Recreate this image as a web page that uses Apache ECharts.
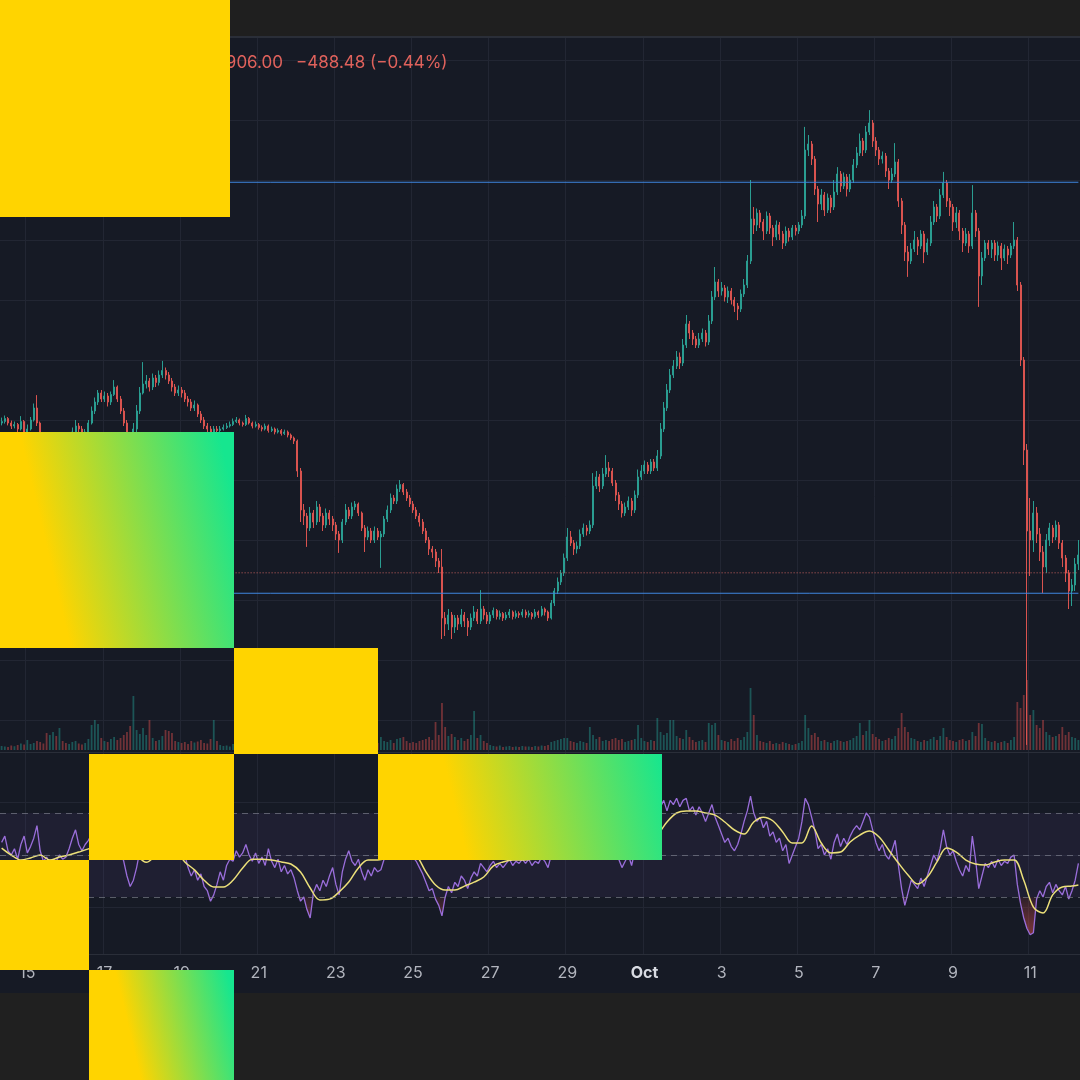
<!DOCTYPE html>
<html><head><meta charset="utf-8">
<script src="https://cdn.jsdelivr.net/npm/echarts@6/dist/echarts.min.js"></script>
<style>html,body{margin:0;padding:0;background:#1f1f1f;}#c{width:1080px;height:1080px;}</style>
</head><body><div id="c"></div><script>
// ---------- DATA (BTC/USD, 2h candles, Sep 14 08:00 -> Oct 12 06:00 UTC) ----------
const startTime = Date.UTC(2025, 8, 14, 8);
const stepMs = 2 * 3600 * 1000;
const firstOpen = 115900;
const closes = [
115950,116050,115900,115800,115850,115700,115950,115600,
115700,116000,116400,115900,115300,115000,114900,115100,115300,115200,115400,115350,
115250,115400,115600,115800,115700,115550,115600,115900,116300,116600,116900,116700,
116800,116600,116850,117100,116700,116300,115900,115400,115200,115700,116300,116900,
117200,117300,117100,117400,117250,117500,117650,117500,117300,117100,116900,117000,
116900,116700,116600,116400,116500,116200,116000,115800,115700,115600,115700,115650,
115700,115750,115800,115850,115950,116000,115900,115850,116050,115900,115800,115850,
115750,115700,115800,115650,115700,115600,115650,115550,115600,115500,115400,115300,
114300,113000,112800,112400,112900,112600,113100,112800,112500,112900,112700,112500,
112200,112000,112600,113000,112800,113100,113200,112900,112400,112100,112300,112000,
112300,112100,112200,112700,113000,113400,113300,113700,113850,113600,113400,113200,
113000,112800,112600,112300,112000,111700,111600,111300,111100,109400,109200,109500,
109100,109400,109200,109500,109300,109100,109400,109600,109300,109700,109500,109300,
109500,109650,109450,109550,109400,109500,109600,109450,109550,109500,109600,109500,
109550,109450,109600,109500,109700,109600,109400,109900,110300,110600,110900,111400,
112100,111900,111700,111800,112200,112400,112300,112500,113800,114100,113800,114200,
114400,114300,113900,113500,113200,112900,113100,113300,113000,113500,114100,114300,
114500,114300,114600,114400,114800,115700,116400,117000,117500,117800,118100,117900,
118500,119200,118900,118700,118500,118700,118900,118600,119300,120100,120600,120300,
120400,120100,120300,120000,119800,119700,120200,120500,121300,122700,122500,122900,
122600,122300,122800,122400,122100,122500,122200,121900,122300,122100,122400,122300,
122500,122800,125000,125200,124700,123700,123200,123500,123000,123400,123100,123600,
124200,123800,124100,123700,124000,124500,124900,125300,125000,125600,125900,125300,
125000,124700,124800,124300,124000,124200,124600,123300,122500,121600,121300,121700,
122000,121800,122200,121600,121900,122600,123100,122800,123500,123900,123300,123100,
122600,122900,122300,121900,122200,121800,122900,122300,120800,121400,121900,121700,
121900,121500,121800,121400,121700,121500,121800,122000,120500,118000,115000,112300,
112000,112900,112200,111600,111100,112000,112400,112100,112500,111900,111400,110900,
110300,110500,111200,111500];
const highs = [
116080,116150,116100,115980,115950,115900,116130,116000,
115850,116100,116550,116830,115950,115400,115150,115200,115450,115400,115550,115500,
115450,115500,115750,116000,115900,115800,115700,116000,116450,116750,117000,117000,
116950,116900,116950,117330,117150,116800,116400,116000,115600,115900,116500,117100,
117930,117500,117400,117550,117500,117650,117970,117750,117600,117400,117200,117150,
117100,117000,116800,116700,116650,116550,116300,116100,115900,115800,115800,115800,
115800,115850,115900,115950,116050,116100,116050,115950,116170,116100,115950,115950,
115900,115820,115880,115850,115780,115750,115720,115700,115680,115650,115550,115450,
115350,114400,113200,112900,113100,113000,113300,113200,112900,113050,113000,112800,
112600,112300,112700,113200,113100,113250,113300,113250,112950,112500,112450,112400,
112450,112400,112300,112800,113150,113550,113500,113850,114000,113900,113700,113500,
113300,113100,112900,112700,112400,112100,111800,111700,111400,111700,109600,109700,
109600,109500,109500,109700,109600,109400,109550,109800,109700,110330,109800,109600,
109600,109750,109700,109650,109600,109600,109700,109650,109650,109620,109700,109680,
109650,109600,109700,109650,109800,109750,109650,110000,110400,110750,111000,111550,
112400,112300,112000,111950,112350,112550,112500,112650,114230,114300,114200,114400,
114830,114600,114400,114000,113600,113300,113250,113450,113400,113650,114350,114500,
114650,114600,114700,114700,115000,115900,116600,117200,117700,118000,118300,118250,
118700,119500,119300,119000,118800,118900,119050,119000,119500,120300,121100,120700,
120600,120500,120450,120400,120100,119900,120350,120700,121500,124000,123100,123050,
123000,122700,122950,122900,122500,122650,122600,122300,122450,122400,122500,122500,
122600,123000,125770,125500,125300,124800,123800,123700,123600,123550,123500,124000,
124430,124300,124250,124200,124200,124700,125100,125550,125400,125800,126330,126000,
125430,125100,124950,124900,124400,124400,125230,124700,123400,122600,121800,121900,
122300,122100,122330,122300,122050,122800,123300,123200,123700,124270,124000,123400,
123200,123100,123000,122400,122400,122300,123830,123000,122400,121600,122000,122000,
122000,122000,121950,121900,121850,121800,121900,122600,122100,120600,118100,115200,
113400,113300,113100,112400,111800,112200,112570,112500,112650,112600,112000,111500,
111000,110700,111400,112000];
const lows = [
115820,115880,115820,115700,115720,115600,115650,115500,
115450,115650,115950,115800,115150,114850,114750,114800,115000,115050,115100,115200,
115100,115150,115350,115550,115600,115450,115450,115550,115850,116200,116500,116600,
116600,116450,116500,116800,116600,116200,115800,115250,114900,114950,115600,116200,
116850,117050,116950,117000,117100,117150,117400,117350,117200,116950,116800,116800,
116750,116600,116450,116300,116300,116100,115900,115700,115600,115500,115500,115550,
115600,115650,115700,115750,115800,115900,115820,115780,115800,115850,115720,115750,
115680,115620,115650,115580,115600,115520,115550,115480,115500,115420,115330,115200,
114100,112600,112500,111770,112300,112400,112500,112600,112300,112400,112500,112300,
112000,111570,111900,112500,112700,112700,113000,112800,112300,111600,112000,111900,
111900,112000,111070,112100,112600,112900,113200,113200,113600,113500,113300,113100,
112900,112700,112450,112200,111900,111500,111400,111100,110900,108700,108800,109000,
108700,108900,109000,109100,109100,108800,109000,109300,109200,109200,109350,109200,
109200,109400,109350,109350,109300,109330,109400,109350,109380,109400,109420,109400,
109420,109350,109380,109400,109450,109480,109300,109350,109800,110200,110500,110800,
111300,111800,111500,111550,111700,112100,112150,112200,112400,113700,113600,113700,
114100,114100,113800,113300,113000,112750,112800,113000,112800,112900,113400,114000,
114200,114200,114200,114300,114300,114700,115600,116300,116900,117400,117700,117700,
117800,118400,118700,118500,118400,118400,118600,118450,118500,119200,120000,120100,
120150,119950,119900,119850,119600,119330,119600,120100,120400,121200,122200,122300,
122400,122000,122200,122200,121800,122000,122000,121700,121800,121950,122000,122150,
122200,122400,122700,124800,124500,123500,122600,123000,122800,122900,122900,123000,
123500,123600,123700,123450,123600,123900,124400,124800,124800,124900,125500,125100,
124800,124500,124550,124100,123700,123900,124100,123100,122200,121300,120770,121200,
121600,121500,121700,121230,121500,121800,122500,122600,122700,123400,123100,122800,
122300,122400,122000,121600,121800,121570,121700,122100,119770,120500,121300,121500,
121400,121300,121300,121000,121300,121200,121400,121700,120300,117800,114500,105170,
110800,111600,111900,111300,110230,110900,111800,111900,112000,111700,111100,110600,
109700,109800,110300,111000];
const volumes = [
400,350,300,450,380,500,650,550,
1000,600,700,900,800,650,1700,1500,1800,1400,2200,900,
700,600,800,900,650,550,700,1100,2500,3000,2600,1200,
900,800,1100,1300,1000,1200,1500,1800,2400,5400,2000,1600,
2200,1500,3000,1200,900,1000,1400,2000,1900,1700,900,800,
700,800,600,900,750,850,1000,700,650,1100,3000,900,
500,400,450,350,600,500,400,450,700,500,400,350,
400,350,300,450,400,350,500,450,400,550,600,700,
1800,2000,1500,1900,1400,1000,900,800,1100,900,700,800,
900,1400,1000,800,700,900,800,750,1000,1200,800,700,
800,700,1300,900,800,1000,700,1100,1200,1300,900,700,
800,700,900,1000,1100,1300,1000,2800,1500,4700,2300,1400,
1600,1300,1000,1200,900,1100,1500,3900,1200,1500,900,700,
500,400,350,450,300,350,400,300,350,300,400,350,
350,300,400,350,450,400,500,800,900,1000,1100,1200,
1200,900,800,700,900,800,700,2300,1500,1100,1300,900,
1000,900,1100,1200,1000,1100,800,900,1000,1100,2500,1200,
900,800,1000,900,3200,1800,1500,1700,3000,3000,1400,1200,
1100,2000,1300,1000,800,900,1000,800,2700,2500,2700,1500,
1000,900,800,1100,900,1200,1000,1300,1800,6200,3500,1500,
900,800,700,900,600,700,600,800,700,600,500,600,
700,900,3500,2200,1500,1700,1300,900,1000,800,700,900,
1000,900,800,900,1000,1200,1400,2700,1500,1900,3000,1600,
1300,1100,900,1000,1200,1100,1400,2200,3700,2300,1800,1200,
1100,900,800,1000,900,1100,1300,1000,1400,2200,1300,1000,
900,800,1000,1100,900,1000,1800,1400,2700,2600,1200,900,
800,900,700,800,900,700,1000,1300,4800,4200,5500,7000,
3500,4000,2500,2200,3000,1800,1500,1300,1400,1600,2300,1500,
1800,1300,1200,1000];
const rsi = [
56,59,52,50,53,48,55,59,51,54,
58,64,52,47,49,46,48,47,50,48,
49,53,58,62,55,52,55,57,60,63,
66,62,64,60,63,66,58,52,47,40,
35,38,44,52,60,63,61,64,60,63,
65,61,58,62,57,53,48,50,44,40,
43,38,41,35,33,28,31,36,42,38,
45,48,47,52,49,51,55,50,47,51,
46,49,45,53,47,44,48,42,45,41,
43,39,33,28,30,24,20,32,36,33,
38,35,40,44,36,31,42,48,52,47,
45,48,42,38,43,40,44,42,43,48,
52,55,54,58,60,56,54,51,49,47,
44,41,37,33,34,29,26,21,30,35,
32,37,35,40,38,34,39,42,40,46,
44,42,45,47,44,46,44,46,48,45,
47,46,48,46,48,45,47,46,49,47,
44,50,55,58,62,63,66,60,56,57,
61,63,61,64,71,72,67,70,71,68,
61,55,48,44,47,50,45,52,60,62,
65,61,64,62,66,73,76,71,76,74,
77,73,76,77,71,73,69,73,70,66,
70,74,68,64,60,56,58,54,52,55,
60,66,71,78,70,66,68,63,66,59,
61,56,58,52,55,46,50,54,58,66,
77,74,68,62,53,55,50,53,48,56,
60,54,58,55,59,62,64,62,66,70,
68,62,56,52,55,50,48,52,57,45,
34,26,32,38,36,34,39,35,40,45,
50,47,53,62,54,50,52,47,43,40,
45,42,59,48,34,40,46,44,47,44,
48,45,47,46,49,50,36,27,20,15,
12,13,29,33,30,35,37,32,36,33,
31,35,29,33,38,46];
// RSI-based moving average, read every 3rd candle (last point = final candle)
const rsiMa = [
53.3,50,47.6,48.6,50,47.6,49,50,51.4,52.9,
54.8,58,59.5,55,50,46.5,50,53.3,52.4,46.7,
42.9,38,34.8,34.8,38,43.8,48,48,47.6,46.7,
45.7,41.9,34.3,28.6,29,32.4,37.1,43.8,47.6,47.6,
49,52.4,53.3,50,42,35.7,33.3,33.3,35.2,37.1,
39.5,44.8,46.7,47.6,47.6,48,48.6,50,53.3,56.2,
57,59,62.9,64.3,59.5,54.8,53.3,55.7,59.5,65.7,
70,71,71,70,69,65.7,61.9,60,65.7,68,
66.2,61,55.7,55.7,63.8,55.7,51,51.4,56.2,59.5,
61.4,58.6,52.4,46.2,40.5,36.2,39.5,46.7,53.3,51.4,
47.6,45.7,45.2,46.7,47.6,47.6,38,25.2,22.4,31,
34.8,35.2,35.7];
const tickLabels = ['15','17','19','21','23','25','27','29','Oct','3','5','7','9','11'];
const levelLines = [123925, 110225];
const lastPrice = 110906;
const headerClose = 'C110,906.00';
const headerChange = '\u2212488.48 (\u22120.44%)';

// ---------- BUILD ----------
const n = closes.length;
const cats = [];
for (let i = 0; i < n; i++) {
  const d = new Date(startTime + i * stepMs);
  cats.push(d.toISOString().slice(5, 16).replace('T', ' '));
}
const opens = closes.map((c, i) => i === 0 ? firstOpen : closes[i - 1]);
const ohlc = closes.map((c, i) => [opens[i], c, lows[i], highs[i]]);
const UP = '#2a9d91', DOWN = '#d9534f';
const volData = volumes.map((v, i) => ({
  value: v,
  itemStyle: { color: closes[i] >= opens[i] ? 'rgba(38,166,154,0.42)' : 'rgba(239,83,80,0.42)' }
}));
const maData = new Array(n).fill(null);
rsiMa.forEach((v, k) => { maData[Math.min(k * 3, n - 1)] = v; });
const osBase = rsi.map(v => Math.min(v, 30));
const osFill = rsi.map(v => 30 - Math.min(v, 30));
const nulls = rsi.map(() => null);
const tickAt = i => (i >= 8 && (i - 8) % 24 === 0) ? tickLabels[(i - 8) / 24] : null;

const GRID = '#222633';
const YEL = '#FFD400', GRN = '#16E68F';
function grad(x, y, x2, y2) {
  return { type: 'linear', x: x, y: y, x2: x2, y2: y2, global: true,
    colorStops: [{ offset: 0, color: YEL }, { offset: 1, color: GRN }] };
}
// horizontal level drawn as a two-point line across the whole time range
function hLine(value, color, type) {
  return { type: 'line', xAxisIndex: 1, yAxisIndex: 1, symbol: 'none', silent: true, z: 4,
    data: [[cats[0], value], [cats[n - 1], value]],
    itemStyle: { color: color },
    lineStyle: { color: color, width: 1, type: type, opacity: 1 },
    emphasis: { disabled: true } };
}
const baseGrid = { left: 0, right: 0, containLabel: false, outerBoundsMode: 'none' };

const chart = echarts.init(document.getElementById('c'), null, { renderer: 'canvas' });
chart.setOption({
  animation: false,
  backgroundColor: '#161a25',
  textStyle: { fontFamily: 'Inter' },
  grid: [
    Object.assign({ top: 38, height: 917 }, baseGrid),
    Object.assign({ top: 60, height: 660 }, baseGrid),
    Object.assign({ top: 600, height: 150 }, baseGrid),
    Object.assign({ top: 750, height: 210 }, baseGrid)
  ],
  xAxis: [
    { type: 'category', gridIndex: 0, data: cats, boundaryGap: true,
      axisLine: { show: false }, axisTick: { show: false }, axisLabel: { show: false },
      splitLine: { show: true, interval: (i) => tickAt(i) !== null, lineStyle: { color: GRID, width: 1 } } },
    { type: 'category', gridIndex: 1, data: cats, boundaryGap: true, show: false },
    { type: 'category', gridIndex: 2, data: cats, boundaryGap: true, show: false },
    { type: 'category', gridIndex: 3, data: cats, boundaryGap: true,
      axisLine: { show: false }, axisTick: { show: false }, splitLine: { show: false },
      axisLabel: { show: true, interval: (i) => tickAt(i) !== null, margin: 5,
        color: '#b2b5be', fontSize: 16, fontFamily: 'Inter', hideOverlap: false,
        formatter: (v, i) => { const t = tickAt(i); return t === null ? '' : (t === 'Oct' ? '{b|Oct}' : t); },
        rich: { b: { fontWeight: 'bold', color: '#d8dbe2', fontSize: 16, fontFamily: 'Inter' } } } }
  ],
  yAxis: [
    { type: 'value', gridIndex: 0, min: 0, max: 1, show: false },
    { type: 'value', gridIndex: 1, min: 106000, max: 128000, interval: 2000, scale: false,
      axisLine: { show: false }, axisTick: { show: false }, axisLabel: { show: false },
      splitLine: { show: true, lineStyle: { color: GRID, width: 1 } } },
    { type: 'value', gridIndex: 2, min: 0, max: 15000, show: false },
    { type: 'value', gridIndex: 3, min: 0, max: 100, interval: 25,
      axisLine: { show: false }, axisTick: { show: false }, axisLabel: { show: false },
      splitLine: { show: true, showMinLine: false, showMaxLine: false, lineStyle: { color: GRID, width: 1 } } }
  ],
  series: [
    { type: 'line', xAxisIndex: 0, yAxisIndex: 0, data: [], silent: true },
    { name: 'BTC', type: 'candlestick', xAxisIndex: 1, yAxisIndex: 1, data: ohlc,
      barWidth: 1.5, clip: false, z: 3,
      itemStyle: { color: UP, color0: DOWN, borderColor: UP, borderColor0: DOWN, borderWidth: 1 } },
    hLine(levelLines[0], '#3f86e0', 'solid'),
    hLine(levelLines[1], '#3f86e0', 'solid'),
    hLine(lastPrice, '#c9605e', [1, 2]),
    { name: 'Volume', type: 'bar', xAxisIndex: 2, yAxisIndex: 2, data: volData, barWidth: 1.8, z: 2 },
    { name: 'bands', type: 'line', xAxisIndex: 3, yAxisIndex: 3, data: nulls, z: 1,
      symbol: 'none', silent: true,
      markArea: { silent: true, itemStyle: { color: 'rgba(126,87,194,0.09)' },
        data: [[{ yAxis: 30 }, { yAxis: 70 }]] },
      markLine: { silent: true, symbol: ['none', 'none'], label: { show: false },
        lineStyle: { color: 'rgba(135,138,150,0.6)', width: 1, type: [6, 5] },
        data: [{ yAxis: 70 }, { yAxis: 50 }, { yAxis: 30 }] } },
    { name: 'osBase', type: 'line', xAxisIndex: 3, yAxisIndex: 3, data: osBase, stack: 'os',
      symbol: 'none', lineStyle: { opacity: 0 }, silent: true, z: 2 },
    { name: 'osFill', type: 'line', xAxisIndex: 3, yAxisIndex: 3, data: osFill, stack: 'os',
      symbol: 'none', lineStyle: { opacity: 0 }, silent: true, z: 2,
      areaStyle: { color: { type: 'linear', x: 0, y: 897, x2: 0, y2: 940, global: true,
        colorStops: [{ offset: 0, color: 'rgba(239,83,80,0.15)' }, { offset: 1, color: 'rgba(239,83,80,0.75)' }] } } },
    { name: 'RSI', type: 'line', xAxisIndex: 3, yAxisIndex: 3, data: rsi, symbol: 'none', z: 3,
      lineStyle: { color: '#9a6edb', width: 1.3 } },
    { name: 'RSI MA', type: 'line', xAxisIndex: 3, yAxisIndex: 3, data: maData, symbol: 'none', z: 4,
      connectNulls: true, smooth: 0.35, lineStyle: { color: '#ece07a', width: 1.5 } }
  ],
  graphic: [
    { type: 'rect', silent: true, z: 50, shape: { x: 0, y: 0, width: 1080, height: 36 }, style: { fill: '#1f1f1f' } },
    { type: 'rect', silent: true, z: 50, shape: { x: 0, y: 36, width: 1080, height: 2 }, style: { fill: '#2a2e38' } },
    { type: 'rect', silent: true, z: 50, shape: { x: 0, y: 993, width: 1080, height: 87 }, style: { fill: '#202020' } },
    { type: 'rect', silent: true, z: 50, shape: { x: 0, y: 752, width: 1080, height: 1 }, style: { fill: '#2a2e39' } },
    { type: 'rect', silent: true, z: 50, shape: { x: 0, y: 954, width: 1080, height: 1 }, style: { fill: '#2a2e39' } },
    { type: 'text', silent: true, z: 50, x: 283, y: 63,
      style: { text: headerClose, fill: '#e0625c', fontSize: 17, fontFamily: 'Inter', align: 'right', verticalAlign: 'middle' } },
    { type: 'text', silent: true, z: 50, x: 296, y: 63,
      style: { text: headerChange, fill: '#e0625c', fontSize: 17, fontFamily: 'Inter', align: 'left', verticalAlign: 'middle' } },
    // decorative overlay blocks
    { type: 'rect', silent: true, z: 100, shape: { x: 0, y: 0, width: 230, height: 217 }, style: { fill: YEL } },
    { type: 'rect', silent: true, z: 100, shape: { x: 0, y: 432, width: 234, height: 216 }, style: { fill: grad(45, 540, 234, 495) } },
    { type: 'rect', silent: true, z: 100, shape: { x: 234, y: 648, width: 144, height: 106 }, style: { fill: YEL } },
    { type: 'rect', silent: true, z: 100, shape: { x: 89, y: 754, width: 145, height: 106 }, style: { fill: YEL } },
    { type: 'rect', silent: true, z: 100, shape: { x: 378, y: 754, width: 284, height: 106 }, style: { fill: grad(455, 807, 662, 757) } },
    { type: 'rect', silent: true, z: 100, shape: { x: 0, y: 860, width: 89, height: 110 }, style: { fill: YEL } },
    { type: 'rect', silent: true, z: 100, shape: { x: 89, y: 970, width: 145, height: 110 }, style: { fill: grad(128, 1025, 234, 1000) } }
  ]
});
</script></body></html>
